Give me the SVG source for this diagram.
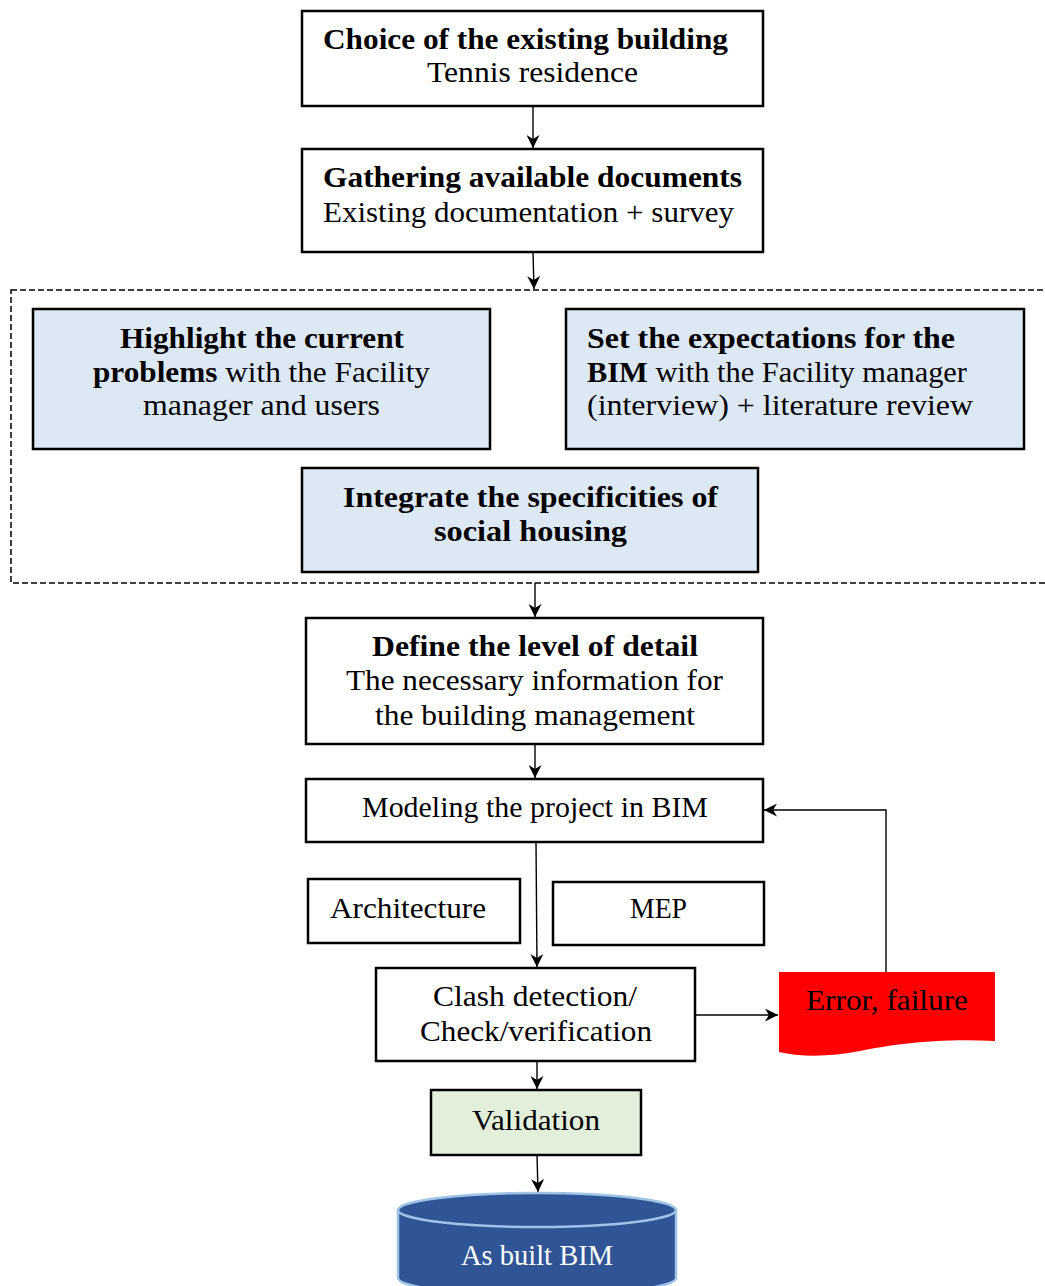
<svg xmlns="http://www.w3.org/2000/svg" width="1045" height="1286" viewBox="0 0 1045 1286">
<defs>
<marker id="arr" viewBox="0 0 10 10" refX="10" refY="5" markerWidth="13" markerHeight="13" markerUnits="userSpaceOnUse" orient="auto">
<path d="M0,0 L10,5 L0,10 L3,5 Z" fill="#000"/>
</marker>
</defs>
<style>
.box{fill:#fff;stroke:#000;stroke-width:2.5}
.blue{fill:#dde8f5;stroke:#000;stroke-width:2.5}
.green{fill:#e2efda;stroke:#000;stroke-width:2.5}
text{font-family:"Liberation Serif","DejaVu Serif",serif;font-size:29px;fill:#000}
.b{font-weight:bold}
.con{fill:none;stroke:#000;stroke-width:1.4;marker-end:url(#arr)}
</style>
<rect width="1045" height="1286" fill="#fff"/>
<g id="group-dashed">
<rect x="11" y="290" width="1050" height="293" fill="none" stroke="#000" stroke-width="1.5" stroke-dasharray="6,3"/>
</g>
<g id="connectors">
<line class="con" x1="533" y1="106" x2="533" y2="148"/>
<line class="con" x1="533" y1="252" x2="534" y2="289"/>
<line class="con" x1="535" y1="583" x2="535" y2="617"/>
<line class="con" x1="535" y1="744" x2="535" y2="778"/>
<line class="con" x1="536" y1="842" x2="537" y2="967"/>
<line class="con" x1="695" y1="1015" x2="778" y2="1015"/>
<polyline class="con" points="886,972 886,810 764,810"/>
<line class="con" x1="537" y1="1061" x2="537" y2="1089"/>
<line class="con" x1="537" y1="1155" x2="538" y2="1192"/>
</g>
<g id="n1">
<rect class="box" x="302" y="11" width="461" height="95"/>
<text class="b" x="323" y="49" textLength="405" lengthAdjust="spacingAndGlyphs">Choice of the existing building</text>
<text x="427" y="82" textLength="211" lengthAdjust="spacingAndGlyphs">Tennis residence</text>
</g>
<g id="n2">
<rect class="box" x="302" y="149" width="461" height="103"/>
<text class="b" x="323" y="187" textLength="419" lengthAdjust="spacingAndGlyphs">Gathering available documents</text>
<text x="323" y="222" textLength="411" lengthAdjust="spacingAndGlyphs">Existing documentation + survey</text>
</g>
<g id="n3">
<rect class="blue" x="33" y="309" width="457" height="140"/>
<text class="b" x="120" y="348" textLength="284" lengthAdjust="spacingAndGlyphs">Highlight the current</text>
<text x="93" y="382" textLength="337" lengthAdjust="spacingAndGlyphs"><tspan class="b">problems</tspan> with the Facility</text>
<text x="143" y="415" textLength="237" lengthAdjust="spacingAndGlyphs">manager and users</text>
</g>
<g id="n4">
<rect class="blue" x="566" y="309" width="458" height="140"/>
<text class="b" x="587" y="348" textLength="368" lengthAdjust="spacingAndGlyphs">Set the expectations for the</text>
<text x="587" y="382" textLength="380" lengthAdjust="spacingAndGlyphs"><tspan class="b">BIM</tspan> with the Facility manager</text>
<text x="587" y="415" textLength="386" lengthAdjust="spacingAndGlyphs">(interview) + literature review</text>
</g>
<g id="n5">
<rect class="blue" x="302" y="468" width="456" height="104"/>
<text class="b" x="343" y="507" textLength="375" lengthAdjust="spacingAndGlyphs">Integrate the specificities of</text>
<text class="b" x="434" y="541" textLength="193" lengthAdjust="spacingAndGlyphs">social housing</text>
</g>
<g id="n6">
<rect class="box" x="306" y="618" width="457" height="126"/>
<text class="b" x="372" y="656" textLength="326" lengthAdjust="spacingAndGlyphs">Define the level of detail</text>
<text x="346" y="690" textLength="377" lengthAdjust="spacingAndGlyphs">The necessary information for</text>
<text x="375" y="725" textLength="320" lengthAdjust="spacingAndGlyphs">the building management</text>
</g>
<g id="n7">
<rect class="box" x="306" y="779" width="457" height="63"/>
<text x="362" y="817" textLength="346" lengthAdjust="spacingAndGlyphs">Modeling the project in BIM</text>
</g>
<g id="n8">
<rect class="box" x="308" y="879" width="212" height="64"/>
<text x="330" y="918" textLength="156" lengthAdjust="spacingAndGlyphs">Architecture</text>
</g>
<g id="n9">
<rect class="box" x="553" y="882" width="211" height="63"/>
<text x="630" y="918" textLength="57" lengthAdjust="spacingAndGlyphs">MEP</text>
</g>
<g id="n10">
<rect class="box" x="376" y="968" width="319" height="93"/>
<text x="433" y="1006" textLength="204" lengthAdjust="spacingAndGlyphs">Clash detection/</text>
<text x="420" y="1041" textLength="232" lengthAdjust="spacingAndGlyphs">Check/verification</text>
</g>
<g id="n11">
<path d="M779,972 L995,972 L995,1041 C935,1038 890,1045 860,1051 C830,1057 800,1057 779,1052 Z" fill="#ff0000"/>
<text x="806" y="1010" textLength="162" lengthAdjust="spacingAndGlyphs">Error, failure</text>
</g>
<g id="n12">
<rect class="green" x="431" y="1090" width="210" height="65"/>
<text x="472" y="1130" textLength="128" lengthAdjust="spacingAndGlyphs">Validation</text>
</g>
<g id="n13">
<path d="M398,1210 A139,17 0 0,1 676,1210 V1278 A139,17 0 0,1 398,1278 Z" fill="#2f5597" stroke="#9dc3e6" stroke-width="2.5"/>
<path d="M398,1210 A139,17 0 0,0 676,1210" fill="none" stroke="#9dc3e6" stroke-width="2.5"/>
<text x="461" y="1265" textLength="152" lengthAdjust="spacingAndGlyphs" style="fill:#fff">As built BIM</text>
</g>
</svg>
